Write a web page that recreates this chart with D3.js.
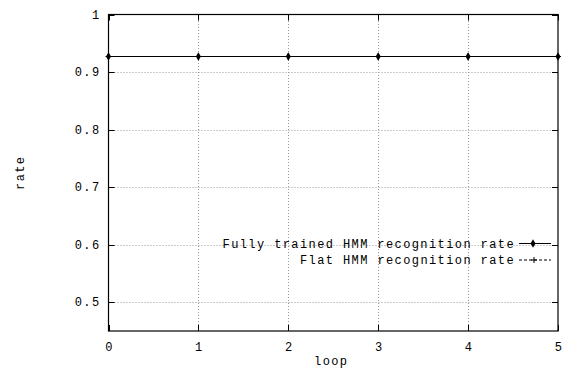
<!DOCTYPE html>
<html>
<head>
<meta charset="utf-8">
<script src="https://cdn.jsdelivr.net/npm/d3@7"></script>
<style>
  body { margin: 0; background: #fff; }
  text { font-family: "Liberation Mono", "DejaVu Sans Mono", monospace; font-size: 12px; letter-spacing: 1.4px; fill: #000; }
</style>
</head>
<body>
<svg id="chart" width="568" height="370"></svg>
<script>
// data
const loops = [0, 1, 2, 3, 4, 5];
const fullyTrained = [0.927, 0.927, 0.927, 0.927, 0.927, 0.927];
const flatHmm = [0.927, 0.927, 0.927, 0.927, 0.927, 0.927];
const xTicks = [0, 1, 2, 3, 4, 5];
const yTicks = [0.5, 0.6, 0.7, 0.8, 0.9, 1];
const seriesNames = ["Fully trained HMM recognition rate", "Flat HMM recognition rate"];

const svg = d3.select("#chart");
const margin = {left: 108.5, right: 10, top: 14.5, bottom: 39};
const W = 568, H = 370;

const x = d3.scaleLinear().domain([0, 5]).range([margin.left, W - margin.right]);
const y = d3.scaleLinear().domain([0.45, 1]).range([H - margin.bottom, margin.top]);

const x0 = x.range()[0], x1 = x.range()[1];
const y0 = y.range()[0], y1 = y.range()[1];

// grid
const grid = svg.append("g").attr("stroke", "#999").attr("stroke-dasharray", "1,2").attr("stroke-width", 1);
grid.selectAll(".gy").data(yTicks.filter(d => d < 1)).enter().append("line")
  .attr("x1", x0).attr("x2", x1)
  .attr("y1", d => Math.round(y(d)) + 0.5).attr("y2", d => Math.round(y(d)) + 0.5);
grid.selectAll(".gx").data(xTicks.filter(d => d > 0 && d < 5)).enter().append("line")
  .attr("y1", y0).attr("y2", y1)
  .attr("x1", d => Math.round(x(d)) + 0.5).attr("x2", d => Math.round(x(d)) + 0.5);

// ticks (inward, mirrored)
const tk = svg.append("g").attr("stroke", "#000").attr("stroke-width", 1);
yTicks.forEach(d => {
  const yy = Math.round(y(d)) + 0.5;
  tk.append("line").attr("x1", x0).attr("x2", x0 + 6).attr("y1", yy).attr("y2", yy);
  tk.append("line").attr("x1", x1).attr("x2", x1 - 6).attr("y1", yy).attr("y2", yy);
});
xTicks.forEach(d => {
  const xx = Math.round(x(d)) + 0.5;
  tk.append("line").attr("y1", y0).attr("y2", y0 - 6).attr("x1", xx).attr("x2", xx);
  tk.append("line").attr("y1", y1).attr("y2", y1 + 6).attr("x1", xx).attr("x2", xx);
});

// tick labels
svg.selectAll(".yl").data(yTicks).enter().append("text")
  .attr("x", x0 - 8).attr("y", d => y(d)).attr("dy", "0.35em")
  .attr("text-anchor", "end").text(d => d3.format("")(d));
svg.selectAll(".xl").data(xTicks).enter().append("text")
  .attr("x", d => x(d) + 1).attr("y", y0 + 16).attr("dy", "0.35em")
  .attr("text-anchor", "middle").text(d => d);

// axis labels
svg.append("text").attr("x", (x0 + x1) / 2 - 2).attr("y", y0 + 30).attr("dy", "0.35em")
  .attr("text-anchor", "middle").text("loop");
svg.append("text").attr("transform", `translate(20,${(y0 + y1) / 2}) rotate(-90)`)
  .attr("dy", "0.35em").attr("text-anchor", "middle").text("rate");

// lines
const line = (vals) => d3.line().x((d, i) => x(loops[i])).y(d => y(d))(vals);
svg.append("path").attr("d", line(fullyTrained)).attr("fill", "none").attr("stroke", "#000").attr("stroke-width", 1);
svg.append("path").attr("d", line(flatHmm)).attr("fill", "none").attr("stroke", "#000").attr("stroke-width", 1).attr("stroke-dasharray", "3,2");

const diamond = d3.symbol().type(d3.symbolDiamond).size(22);
const plus = (cx, cy, g) => {
  g.append("line").attr("x1", cx - 3).attr("x2", cx + 3).attr("y1", cy).attr("y2", cy).attr("stroke", "#000");
  g.append("line").attr("x1", cx).attr("x2", cx).attr("y1", cy - 3).attr("y2", cy + 3).attr("stroke", "#000");
};
const marks = svg.append("g");
fullyTrained.forEach((v, i) => {
  marks.append("path").attr("d", diamond).attr("transform", `translate(${x(loops[i])},${y(v)})`).attr("fill", "#000");
});
flatHmm.forEach((v, i) => plus(x(loops[i]), y(v), marks));

// legend
const lg = svg.append("g");
const rows = [243.5, 260];
lg.selectAll("text").data(seriesNames).enter().append("text")
  .attr("x", 515).attr("y", (d, i) => rows[i]).attr("dy", "0.35em")
  .attr("text-anchor", "end").text(d => d);
lg.append("line").attr("x1", 519).attr("x2", 551).attr("y1", rows[0]).attr("y2", rows[0]).attr("stroke", "#000");
lg.append("path").attr("d", diamond).attr("transform", `translate(533,${rows[0]})`).attr("fill", "#000");
lg.append("line").attr("x1", 519).attr("x2", 551).attr("y1", rows[1]).attr("y2", rows[1]).attr("stroke", "#000").attr("stroke-dasharray", "3,2");
plus(534, rows[1], lg);

// border
svg.append("rect").attr("x", x0).attr("y", y1).attr("width", x1 - x0).attr("height", y0 - y1)
  .attr("fill", "none").attr("stroke", "#000").attr("stroke-width", 1.2);
</script>
</body>
</html>
